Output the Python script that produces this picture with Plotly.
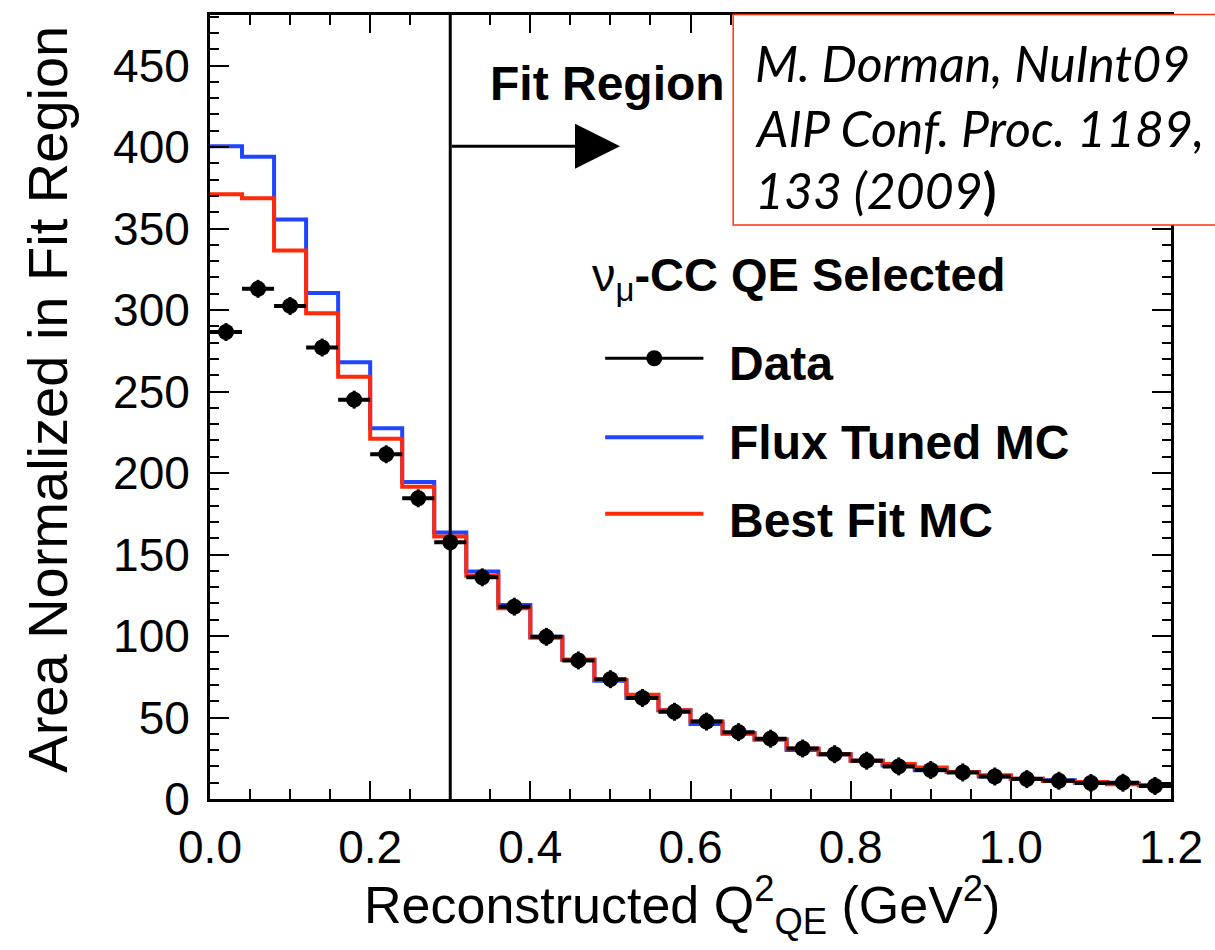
import plotly.graph_objects as go

# ---------------- data ----------------
bin_edges = [0.00, 0.04, 0.08, 0.12, 0.16, 0.20, 0.24, 0.28, 0.32, 0.36,
             0.40, 0.44, 0.48, 0.52, 0.56, 0.60, 0.64, 0.68, 0.72, 0.76,
             0.80, 0.84, 0.88, 0.92, 0.96, 1.00, 1.04, 1.08, 1.12, 1.16, 1.20]

data_vals = [286.5, 313.0, 302.5, 277.0, 245.0, 211.5, 184.5, 157.5, 136.0, 118.0,
             99.5, 85.0, 73.5, 62.0, 53.5, 47.5, 41.0, 37.0, 31.0, 27.5,
             23.5, 20.0, 17.8, 16.3, 13.8, 12.2, 11.2, 9.8, 10.0, 8.0]

flux_tuned_mc = [400.5, 394.0, 355.5, 310.5, 268.0, 227.5, 194.5, 163.5, 139.5, 119.0,
                 99.5, 85.5, 72.5, 62.0, 54.5, 46.0, 40.0, 36.5, 30.0, 27.5,
                 23.5, 20.5, 17.7, 16.5, 13.8, 12.5, 11.5, 10.0, 9.5, 8.5]

best_fit_mc = [371.0, 368.5, 336.5, 298.0, 259.0, 221.0, 191.5, 161.0, 137.0, 117.0,
               99.0, 85.5, 73.0, 64.0, 54.5, 47.5, 40.5, 36.5, 31.0, 27.5,
               23.5, 21.5, 19.3, 16.5, 14.5, 12.5, 11.0, 10.5, 9.0, 8.5]

fit_region_start = 0.3

x_tick_vals = [0.0, 0.2, 0.4, 0.6, 0.8, 1.0, 1.2]
x_tick_text = ["0.0", "0.2", "0.4", "0.6", "0.8", "1.0", "1.2"]
y_tick_vals = [0, 50, 100, 150, 200, 250, 300, 350, 400, 450]
y_tick_text = ["0", "50", "100", "150", "200", "250", "300", "350", "400", "450"]

# ---------------- style ----------------
BLUE = "#1f45ff"
RED = "#ff2a0a"
FONT = "Liberation Sans, Arial, Helvetica, sans-serif"

bin_lo = bin_edges[:-1]
bin_hi = bin_edges[1:]
centers = [(a + b) / 2 for a, b in zip(bin_lo, bin_hi)]
half_w = [(b - a) / 2 for a, b in zip(bin_lo, bin_hi)]

fig = go.Figure()


def step_trace(vals, color, name):
    return go.Scatter(
        x=list(bin_lo) + [bin_edges[-1]],
        y=list(vals) + [vals[-1]],
        mode="lines",
        line=dict(color=color, width=4, shape="hv"),
        name=name,
        showlegend=False,
        hoverinfo="skip",
    )


fig.add_trace(step_trace(flux_tuned_mc, BLUE, "Flux Tuned MC"))
fig.add_trace(step_trace(best_fit_mc, RED, "Best Fit MC"))
fig.add_trace(go.Scatter(
    x=centers, y=data_vals, mode="markers", name="Data", showlegend=False,
    marker=dict(color="black", size=16, symbol="circle"),
    error_x=dict(type="data", array=half_w, symmetric=True, color="black",
                 thickness=4, width=0),
    error_y=dict(type="constant", value=5.5, color="black", thickness=3, width=0),
))

# Fit region line + arrow
fig.add_shape(type="line", xref="x", yref="paper", x0=fit_region_start, x1=fit_region_start,
              y0=0, y1=1, line=dict(color="black", width=3), layer="above")
fig.add_annotation(x=0.512, y=400.5, ax=fit_region_start, ay=400.5, axref="x", ayref="y",
                   xref="x", yref="y", text="", showarrow=True, arrowhead=2,
                   arrowsize=3, arrowwidth=3, arrowcolor="black")
fig.add_annotation(x=0.3476, y=439, xref="x", yref="y", text="<b>Fit Region</b>",
                   showarrow=False, xanchor="left", yanchor="middle",
                   font=dict(family=FONT, size=48, color="black"))

# Legend (drawn manually)
leg_x0, leg_x1, leg_text_x = 0.4934, 0.6161, 0.6458
fig.add_annotation(x=0.475, y=319.5, xref="x", yref="y",
                   text="ν<sub>μ</sub><b>-CC QE Selected</b>",
                   showarrow=False, xanchor="left", yanchor="middle",
                   font=dict(family=FONT, size=47, color="black"))
legend_rows = [("Data", "black", 270.4, 267.1),
               ("Flux Tuned MC", BLUE, 221.9, 218.5),
               ("Best Fit MC", RED, 175.0, 171.1)]
for label, color, yline, ytext in legend_rows:
    fig.add_shape(type="line", xref="x", yref="y", x0=leg_x0, x1=leg_x1, y0=yline, y1=yline,
                  line=dict(color=color, width=3 if color == "black" else 4))
    fig.add_annotation(x=leg_text_x, y=ytext, xref="x", yref="y", text="<b>%s</b>" % label,
                       showarrow=False, xanchor="left", yanchor="middle",
                       font=dict(family=FONT, size=48, color="black"))
# data marker in legend
fig.add_shape(type="circle", xref="x", yref="y", xsizemode="pixel", ysizemode="pixel",
              xanchor=(leg_x0 + leg_x1) / 2, yanchor=270.4,
              x0=-8, x1=8, y0=-8, y1=8, fillcolor="black", line=dict(color="black", width=0))

# Citation box
fig.add_shape(type="rect", xref="paper", yref="paper", x0=0.5444, x1=1.06, y0=0.7323, y1=1.0005,
              fillcolor="white", line=dict(color="#ff3010", width=1.5), layer="above")
cite_font = dict(family="Lato, Liberation Sans, sans-serif", size=50, color="black")
cite_lines = [("<i>M. Dorman, NuInt09</i>", 60),
              ("<i>AIP Conf. Proc. 1189,</i>", 125),
              ("<i>133 (2009</i><b>)</b>", 188)]
for txt, py in cite_lines:
    fig.add_annotation(x=(757 - 210) / 968, y=(799 - py) / 787, xref="paper", yref="paper",
                       text=txt, showarrow=False, xanchor="left", yanchor="middle",
                       font=cite_font)

# Axis titles
fig.add_annotation(x=(685 - 210) / 968, y=(799 - 905) / 787, xref="paper", yref="paper",
                   text="Reconstructed Q<sup>2</sup><sub>QE</sub> (GeV<sup>2</sup>)",
                   showarrow=False, xanchor="center", yanchor="middle",
                   font=dict(family=FONT, size=52, color="black"))
fig.add_annotation(x=(46 - 210) / 968, y=(799 - 398) / 787, xref="paper", yref="paper",
                   text="Area Normalized in Fit Region", textangle=-90,
                   showarrow=False, xanchor="center", yanchor="middle",
                   font=dict(family=FONT, size=56, color="black"))

axis_common = dict(showline=True, linecolor="black", linewidth=3, mirror="allticks",
                   ticks="inside", tickcolor="black", tickwidth=2, showgrid=False,
                   zeroline=False, tickfont=dict(family=FONT, size=46, color="black"))

fig.update_xaxes(range=[0, 1.2], tickvals=x_tick_vals, ticktext=x_tick_text, ticklen=18,
                 minor=dict(dtick=0.05, ticklen=10, tickwidth=2, tickcolor="black",
                            ticks="inside", showgrid=False),
                 ticklabelstandoff=6, **axis_common)
fig.update_yaxes(range=[0, 481], tickvals=y_tick_vals, ticktext=y_tick_text, ticklen=19,
                 minor=dict(dtick=10, ticklen=9, tickwidth=2, tickcolor="black",
                            ticks="inside", showgrid=False),
                 ticklabelstandoff=8, **axis_common)

fig.update_layout(width=1215, height=950, margin=dict(l=210, r=37, t=12, b=151),
                  plot_bgcolor="white", paper_bgcolor="white", showlegend=False,
                  font=dict(family=FONT, color="black"))

fig.write_html("out.html")
